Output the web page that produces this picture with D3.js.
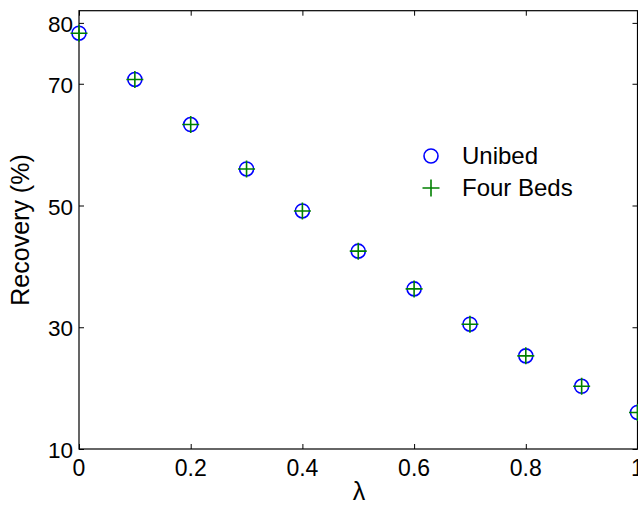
<!DOCTYPE html>
<html>
<head>
<meta charset="utf-8">
<script src="https://cdn.jsdelivr.net/npm/d3@7"></script>
<style>
  html, body { margin: 0; padding: 0; background: #ffffff; }
  svg { display: block; }
  text { font-family: "Liberation Sans", Arial, Helvetica, sans-serif; fill: #000; }
</style>
</head>
<body>
<svg id="chart" width="638" height="505"></svg>
<script>
// Recovery versus lambda for the two bed configurations
const lambdas   = [0, 0.1, 0.2, 0.3, 0.4, 0.5, 0.6, 0.7, 0.8, 0.9, 1.0];
const unibed    = [78.3, 70.7, 63.3, 56.0, 49.1, 42.5, 36.3, 30.5, 25.3, 20.3, 16.0];
const fourBeds  = [78.3, 70.7, 63.3, 56.0, 49.1, 42.5, 36.3, 30.5, 25.3, 20.3, 16.0];
const xTicks    = [0, 0.2, 0.4, 0.6, 0.8, 1];
const yTicks    = [10, 30, 50, 70, 80];
const seriesNames = ["Unibed", "Four Beds"];

const svg = d3.select("#chart");
const plotLeft = 79, plotRight = 637.5, plotTop = 10.7, plotBottom = 449;

const x = d3.scaleLinear().domain([0, 1]).range([plotLeft, plotRight]);
const y = d3.scaleLinear().domain([10, 82]).range([plotBottom, plotTop]);

const tickLen = 5;

// axes box
svg.append("rect")
  .attr("x", plotLeft).attr("y", plotTop)
  .attr("width", plotRight - plotLeft).attr("height", plotBottom - plotTop)
  .attr("fill", "none").attr("stroke", "#000").attr("stroke-width", 1.2);

// inward ticks on all four sides
const xAxisB = d3.axisBottom(x).tickValues(xTicks).tickSizeInner(-tickLen).tickSizeOuter(0).tickFormat("");
const xAxisT = d3.axisTop(x).tickValues(xTicks).tickSizeInner(-tickLen).tickSizeOuter(0).tickFormat("");
const yAxisL = d3.axisLeft(y).tickValues(yTicks).tickSizeInner(-tickLen).tickSizeOuter(0).tickFormat("");
const yAxisR = d3.axisRight(y).tickValues(yTicks).tickSizeInner(-tickLen).tickSizeOuter(0).tickFormat("");

function styleAxis(g) {
  g.select(".domain").remove();
  g.selectAll(".tick line").attr("stroke", "#000").attr("stroke-width", 1);
}
svg.append("g").attr("transform", `translate(0,${plotBottom})`).call(xAxisB).call(styleAxis);
svg.append("g").attr("transform", `translate(0,${plotTop})`).call(xAxisT).call(styleAxis);
svg.append("g").attr("transform", `translate(${plotLeft},0)`).call(yAxisL).call(styleAxis);
svg.append("g").attr("transform", `translate(${plotRight},0)`).call(yAxisR).call(styleAxis);

// tick labels
svg.append("g").selectAll("text").data(xTicks).join("text")
  .attr("x", d => x(d)).attr("y", 476)
  .attr("text-anchor", "middle")
  .attr("font-size", 23)
  .text(d => d3.format("~g")(d));

svg.append("g").selectAll("text").data(yTicks).join("text")
  .attr("x", 73).attr("y", d => y(d) + 9)
  .attr("text-anchor", "end")
  .attr("font-size", 22.5)
  .text(d => d);

// axis labels
svg.append("text")
  .attr("x", 359).attr("y", 500)
  .attr("text-anchor", "middle")
  .attr("font-size", 25)
  .text("λ");

svg.append("text")
  .attr("transform", "translate(29,230) rotate(-90)")
  .attr("text-anchor", "middle")
  .attr("font-size", 25)
  .text("Recovery (%)");

// markers
const r = 7, ph = 8.5;
const blue = "#0000ff", green = "#008000";

function circleMark(g, cx, cy) {
  g.append("circle").attr("cx", cx).attr("cy", cy).attr("r", r)
    .attr("fill", "none").attr("stroke", blue).attr("stroke-width", 1.6);
}
function plusMark(g, cx, cy) {
  g.append("path")
    .attr("d", `M${cx - ph},${cy}H${cx + ph}M${cx},${cy - ph}V${cy + ph}`)
    .attr("fill", "none").attr("stroke", green).attr("stroke-width", 1.6);
}

const pts = svg.append("g");
lambdas.forEach((l, i) => circleMark(pts, x(l), y(unibed[i])));
lambdas.forEach((l, i) => plusMark(pts, x(l), y(fourBeds[i])));

// legend
const legend = svg.append("g");
circleMark(legend, 431, 156);
plusMark(legend, 431, 188);
legend.selectAll("text").data(seriesNames).join("text")
  .attr("x", 462).attr("y", (d, i) => 164 + i * 32)
  .attr("font-size", 24)
  .text(d => d);
</script>
</body>
</html>
